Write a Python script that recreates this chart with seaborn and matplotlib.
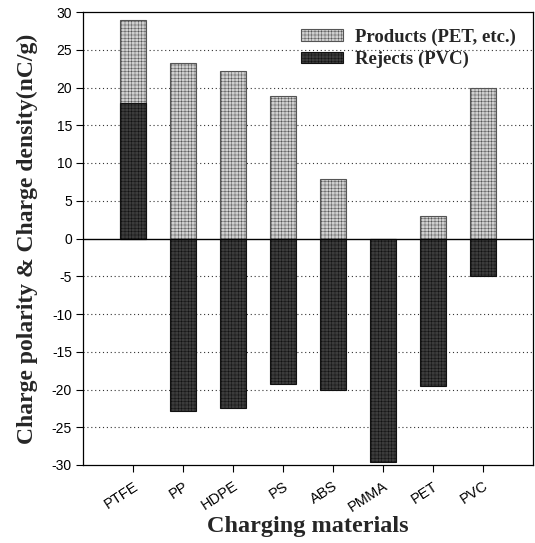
import matplotlib
matplotlib.use("Agg")
import matplotlib.pyplot as plt
import seaborn as sns
import numpy as np

materials = ["PTFE", "PP", "HDPE", "PS", "ABS", "PMMA", "PET", "PVC"]
products = [29.0, 23.3, 22.2, 18.9, 7.9, 0.0, 3.0, 19.9]
rejects = [18.0, -22.8, -22.4, -19.3, -20.0, -29.6, -19.6, -5.0]
yticks = [-30, -25, -20, -15, -10, -5, 0, 5, 10, 15, 20, 25, 30]

sns.set_style("white")
plt.rcParams["hatch.linewidth"] = 0.35

fig = plt.figure(figsize=(5.35, 5.43), dpi=100)
ax = fig.add_axes([83/535, 1 - 465/543, 450/535, 453/543])

sns.barplot(x=materials, y=products, color="#cfcfcf", width=0.52,
            edgecolor="#555555", linewidth=0.8, hatch="+++++",
            label="Products (PET, etc.)", ax=ax, zorder=3, saturation=1)
sns.barplot(x=materials, y=rejects, color="#3c3c3c", width=0.52,
            edgecolor="#111111", linewidth=0.8, hatch="+++++",
            label="Rejects (PVC)", ax=ax, zorder=4, saturation=1)

ax.set_xlim(-1, 8)
ax.set_ylim(-30, 30)
ax.set_yticks(yticks)
ax.set_yticklabels([str(v) for v in yticks], fontsize=10, family="Liberation Sans")
for v in yticks:
    if v not in (-30, 30, 0):
        ax.axhline(v, color="#333333", linestyle=(0, (1, 2.5)), linewidth=0.8, zorder=1)
ax.axhline(0, color="black", linewidth=1.0, zorder=5)

ax.set_xticks(range(len(materials)))
ax.set_xticklabels(materials, rotation=33, ha="right", rotation_mode="anchor",
                   fontsize=10.5, family="Liberation Sans")
ax.tick_params(axis="both", direction="out", length=5, width=0.8, colors="black",
               bottom=True, left=True, pad=3)
ax.tick_params(axis="x", pad=5)
for s in ax.spines.values():
    s.set_visible(True)
    s.set_color("black")
    s.set_linewidth(0.9)

ax.set_xlabel("Charging materials", fontsize=17.5, fontweight="bold",
              family="Liberation Serif", labelpad=1)
ax.set_ylabel("Charge polarity & Charge density(nC/g)", fontsize=17,
              fontweight="bold", family="Liberation Serif", labelpad=10)

leg = ax.legend(loc="upper left", bbox_to_anchor=(0.484, 0.9636), frameon=False,
                borderpad=0, borderaxespad=0, handlelength=2.24, handleheight=0.55,
                handletextpad=0.64, labelspacing=0.28,
                prop={"family": "Liberation Serif", "weight": "bold", "size": 13.5})

fig.savefig("out.png", dpi=100)
